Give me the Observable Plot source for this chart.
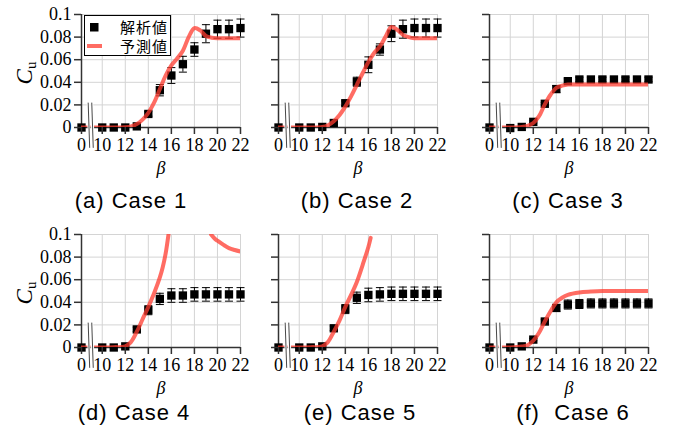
<!DOCTYPE html>
<html><head><meta charset="utf-8">
<script src="https://cdn.jsdelivr.net/npm/d3@7"></script>
<script src="https://cdn.jsdelivr.net/npm/@observablehq/plot@0.6"></script>
<style>
body{margin:0;background:#fff;}
#root{position:relative;width:673px;height:432px;overflow:hidden;background:#fff;}
.panel{position:absolute;}
.cap{position:absolute;width:200px;text-align:center;font-family:"Liberation Sans",Arial,sans-serif;font-size:22px;line-height:22px;letter-spacing:1px;color:#000;white-space:pre;}
.legend{position:absolute;}
</style></head><body><div id="root"></div>
<script>
// ---------- data ----------
const betas = [0, 10, 11, 12, 13, 14, 15, 16, 17, 18, 19, 20, 21, 22];
const captions = ["(a) Case 1", "(b) Case 2", "(c) Case 3", "(d) Case 4", "(e) Case 5", "(f)  Case 6"];
const yTicks = [0, 0.02, 0.04, 0.06, 0.08, 0.1];
const xTickBetas = [0, 10, 12, 14, 16, 18, 20, 22];
const xTickLabels = ["0", "10", "12", "14", "16", "18", "20", "22"];
const gridBetas = [10, 12, 14, 16, 18, 20, 22];
const legendLabels = ["解析値", "予測値"];
const yLabelMain = "C", yLabelSub = "u", xLabel = "β";

// analysis values (markers) and error bars
const cuA = [0, 0, 0, 0, 0.001, 0.012, 0.033, 0.046, 0.056, 0.069, 0.083, 0.087, 0.087, 0.088];
const errA = [0, 0, 0, 0, 0.001, 0.002, 0.005, 0.007, 0.007, 0.006, 0.008, 0.008, 0.008, 0.008];
const cuB = [0, 0, 0, 0.0005, 0.004, 0.0215, 0.0405, 0.0555, 0.069, 0.083, 0.087, 0.088, 0.088, 0.088];
const errB = [0, 0, 0, 0, 0.001, 0.002, 0.004, 0.007, 0.005, 0.007, 0.008, 0.008, 0.008, 0.008];
const cuC = [0, -0.0005, 0.0005, 0.005, 0.021, 0.034, 0.041, 0.0425, 0.0425, 0.0425, 0.0425, 0.0425, 0.0425, 0.0425];
const errC = [0, 0, 0, 0.001, 0.001, 0.003, 0.002, 0.002, 0.002, 0.002, 0.002, 0.002, 0.002, 0.002];
const cuD = [0, 0, 0, 0.001, 0.016, 0.033, 0.043, 0.046, 0.046, 0.047, 0.047, 0.047, 0.047, 0.047];
const errD = [0, 0, 0, 0, 0.002, 0.004, 0.005, 0.006, 0.006, 0.006, 0.006, 0.006, 0.006, 0.006];
const cuE = [0, 0, 0, 0.001, 0.017, 0.034, 0.044, 0.0465, 0.047, 0.0475, 0.0475, 0.0475, 0.0475, 0.0475];
const errE = [0, 0, 0, 0, 0.002, 0.004, 0.005, 0.006, 0.006, 0.006, 0.006, 0.006, 0.006, 0.006];
const cuF = [0, 0, 0.001, 0.007, 0.023, 0.035, 0.038, 0.0385, 0.039, 0.039, 0.039, 0.039, 0.039, 0.039];
const errF = [0, 0, 0, 0.001, 0.002, 0.003, 0.004, 0.004, 0.004, 0.004, 0.004, 0.004, 0.004, 0.004];

// predicted curves
const predBetaA = [0, 10, 11, 12, 12.5, 13, 13.5, 14, 14.5, 15, 15.5, 16, 16.5, 17, 17.5, 18, 18.5, 19, 19.5, 20, 21, 22];
const predA = [0, 0, 0, 0.0003, 0.001, 0.003, 0.007, 0.013, 0.022, 0.034, 0.046, 0.055, 0.061, 0.068, 0.080, 0.088, 0.086, 0.081, 0.0795, 0.079, 0.079, 0.079];
const predBetaB = [0, 10, 11, 12, 12.5, 13, 13.5, 14, 14.5, 15, 15.5, 16, 16.5, 17, 17.5, 18, 18.5, 19, 19.5, 20, 21, 22];
const predB = [0, 0, 0, 0.0005, 0.002, 0.0055, 0.011, 0.0186, 0.0275, 0.0378, 0.048, 0.058, 0.066, 0.0717, 0.0805, 0.089, 0.0865, 0.082, 0.080, 0.079, 0.079, 0.079];
const predBetaC = [0, 10, 11, 11.5, 12, 12.5, 13, 13.5, 14, 14.5, 15, 16, 18, 20, 22];
const predC = [0, 0, 0.0005, 0.0015, 0.004, 0.010, 0.0205, 0.029, 0.035, 0.037, 0.038, 0.038, 0.038, 0.038, 0.038];
const predBetaD = [0, 10, 11, 12, 12.5, 13, 13.5, 14, 14.5, 15, 15.25, 15.5, 15.75, 19.45, 19.75, 20, 20.5, 21, 21.5, 22];
const predD = [0, 0, 0.0003, 0.001, 0.005, 0.014, 0.025, 0.036, 0.048, 0.062, 0.071, 0.083, 0.1, 0.1, 0.0965, 0.0945, 0.091, 0.088, 0.0863, 0.085];
const predSegD = [0, 0, 0, 0, 0, 0, 0, 0, 0, 0, 0, 0, 0, 1, 1, 1, 1, 1, 1, 1];
const predBetaE = [0, 10, 11, 12, 12.5, 13, 13.5, 14, 14.5, 15, 15.5, 16, 16.2];
const predE = [0, 0, 0.0003, 0.001, 0.005, 0.014, 0.024, 0.036, 0.0465, 0.058, 0.073, 0.089, 0.097];
const predBetaF = [0, 10, 11, 11.5, 12, 12.5, 13, 13.5, 14, 14.5, 15, 16, 17, 18, 20, 22];
const predF = [0, 0, 0.0008, 0.002, 0.006, 0.013, 0.023, 0.032, 0.040, 0.044, 0.0466, 0.0487, 0.0495, 0.050, 0.050, 0.050];

// axis break (in axis units) : two slanted strokes between "0" and "10"
const breakTop = [8.78, 9.09];
const breakBottom = [8.91, 9.22];
const breakY = [0.022, -0.018];

// ---------- layout ----------
const SERIF = "Liberation Serif";
const zeroPos = 8.2;           // where β = 0 sits on the broken axis
const pos = b => b < 10 ? zeroPos + b * (10 - zeroPos) / 10 : b;
const RED = "#ff3b2f", AX = "#333";
const mL = 70, mR = 11, mT = 14, mB = 58, W = 240, H = 185;
const colLeft = [11, 208, 419];
const rowTop = [0, 220];
const capCenter = [[131, 357, 568], [134, 360, 573]];
const capTop = [190, 402];

const capSymbol = {draw(ctx, size) { const r = Math.sqrt(size / Math.PI); ctx.moveTo(-r, 0); ctx.lineTo(r, 0); }};

const cases = [
  {cu: cuA, err: errA, pb: predBetaA, pv: predA},
  {cu: cuB, err: errB, pb: predBetaB, pv: predB},
  {cu: cuC, err: errC, pb: predBetaC, pv: predC},
  {cu: cuD, err: errD, pb: predBetaD, pv: predD, seg: predSegD},
  {cu: cuE, err: errE, pb: predBetaE, pv: predE},
  {cu: cuF, err: errF, pb: predBetaF, pv: predF}
];

const root = document.getElementById("root");

cases.forEach((c, k) => {
  const row = Math.floor(k / 3), col = k % 3;
  const pts = betas.map((b, i) => ({x: pos(b), y: c.cu[i], e: c.err[i]}));
  const eb = pts.filter(d => d.e > 0);
  const curve = c.pb.map((b, i) => ({x: pos(b), y: c.pv[i], s: c.seg ? c.seg[i] : 0}));
  const brk = breakTop.map((t, i) => ({x1: t, x2: breakBottom[i]}));
  const plot = Plot.plot({
    width: W, height: H,
    marginLeft: mL, marginRight: mR, marginTop: mT, marginBottom: mB,
    style: {background: "transparent", overflow: "visible", color: "#000"},
    x: {domain: [zeroPos, 22]},
    y: {domain: [0, 0.1]},
    marks: [
      Plot.ruleX(gridBetas, {x: d => pos(d), stroke: "#d4d4d4", strokeWidth: 1}),
      Plot.ruleY(yTicks.slice(1), {y: d => d, stroke: "#d4d4d4", strokeWidth: 1}),
      Plot.ruleX([zeroPos], {x: d => d, stroke: AX, strokeWidth: 1.5}),
      Plot.ruleY([0], {y: d => d, stroke: AX, strokeWidth: 1.5}),
      Plot.ruleX(eb, {x: "x", y1: d => d.y - d.e, y2: d => d.y + d.e, stroke: "#000", strokeWidth: 1}),
      Plot.dot(eb, {x: "x", y: d => d.y + d.e, symbol: capSymbol, r: 4, fill: "none", stroke: "#000", strokeWidth: 1}),
      Plot.dot(eb, {x: "x", y: d => d.y - d.e, symbol: capSymbol, r: 4, fill: "none", stroke: "#000", strokeWidth: 1}),
      Plot.dot(pts, {x: "x", y: "y", symbol: "square", r: 4.7, fill: "#000"}),
      Plot.line(curve, {x: "x", y: "y", z: "s", curve: "catmull-rom", stroke: RED, strokeWidth: 4, strokeOpacity: 0.75, clip: true}),
      Plot.link(brk, {x1: "x1", x2: "x2", y1: breakY[0], y2: breakY[1], stroke: "#fff", strokeWidth: 3}),
      Plot.link(brk, {x1: "x1", x2: "x2", y1: breakY[0], y2: breakY[1], stroke: AX, strokeWidth: 0.9}),
      Plot.axisX({ticks: xTickBetas.map(pos), tickFormat: d => xTickLabels[xTickBetas.map(pos).indexOf(d)], tickSize: 7, tickPadding: 4, stroke: AX, strokeWidth: 1.5, label: null, fontSize: 18, fontFamily: SERIF}),
      Plot.axisY({ticks: yTicks, tickFormat: col === 0 ? (d => d === 0 ? "0" : String(+d.toFixed(2))) : (() => ""), tickSize: 7, tickPadding: 3, stroke: AX, strokeWidth: 1.5, label: null, fontSize: 18, fontFamily: SERIF}),
      Plot.text([xLabel], {frameAnchor: "bottom", lineAnchor: "middle", dy: 41, text: d => d, fontStyle: "italic", fontSize: 18, fontFamily: SERIF})
    ]
  });
  d3.select(plot).attr("font-family", SERIF).style("font-family", SERIF);
  d3.select(plot).selectAll("text").attr("font-family", SERIF).style("font-family", SERIF);
  const div = document.createElement("div");
  div.className = "panel";
  div.style.left = colLeft[col] + "px";
  div.style.top = rowTop[row] + "px";
  div.appendChild(plot);
  root.appendChild(div);
  if (col === 0) {
    const t = d3.select(plot).append("text")
      .attr("transform", `translate(21,73) rotate(-90)`)
      .attr("text-anchor", "middle")
      .attr("font-family", SERIF).style("font-family", SERIF)
      .attr("fill", "#000");
    t.append("tspan").attr("font-style", "italic").attr("font-size", 23).text(yLabelMain);
    t.append("tspan").attr("font-size", 15).attr("dy", 4).text(yLabelSub);
  }
  const cap = document.createElement("div");
  cap.className = "cap";
  cap.textContent = captions[k];
  cap.style.left = (capCenter[row][col] - 100) + "px";
  cap.style.top = capTop[row] + "px";
  root.appendChild(cap);
});

// legend (panel a)
const lg = d3.select(root).append("svg").attr("class", "legend")
  .attr("width", 88).attr("height", 42)
  .style("left", "84px").style("top", "15px");
lg.append("rect").attr("x", 0.5).attr("y", 0.5).attr("width", 86).attr("height", 40).attr("fill", "#fff").attr("stroke", "#000").attr("stroke-width", 1);
lg.append("rect").attr("x", 6).attr("y", 8).attr("width", 8.5).attr("height", 8.5).attr("fill", "#000");
lg.append("line").attr("x1", 3).attr("x2", 18).attr("y1", 31).attr("y2", 31).attr("stroke", RED).attr("stroke-opacity", 0.75).attr("stroke-width", 4);
legendLabels.forEach((s, i) => {
  lg.append("text").attr("x", 84).attr("y", 18 + i * 19).attr("text-anchor", "end")
    .attr("font-family", "Noto Sans CJK JP").attr("font-size", 15).attr("letter-spacing", 1).attr("fill", "#000").text(s);
});
</script>
</body></html>
